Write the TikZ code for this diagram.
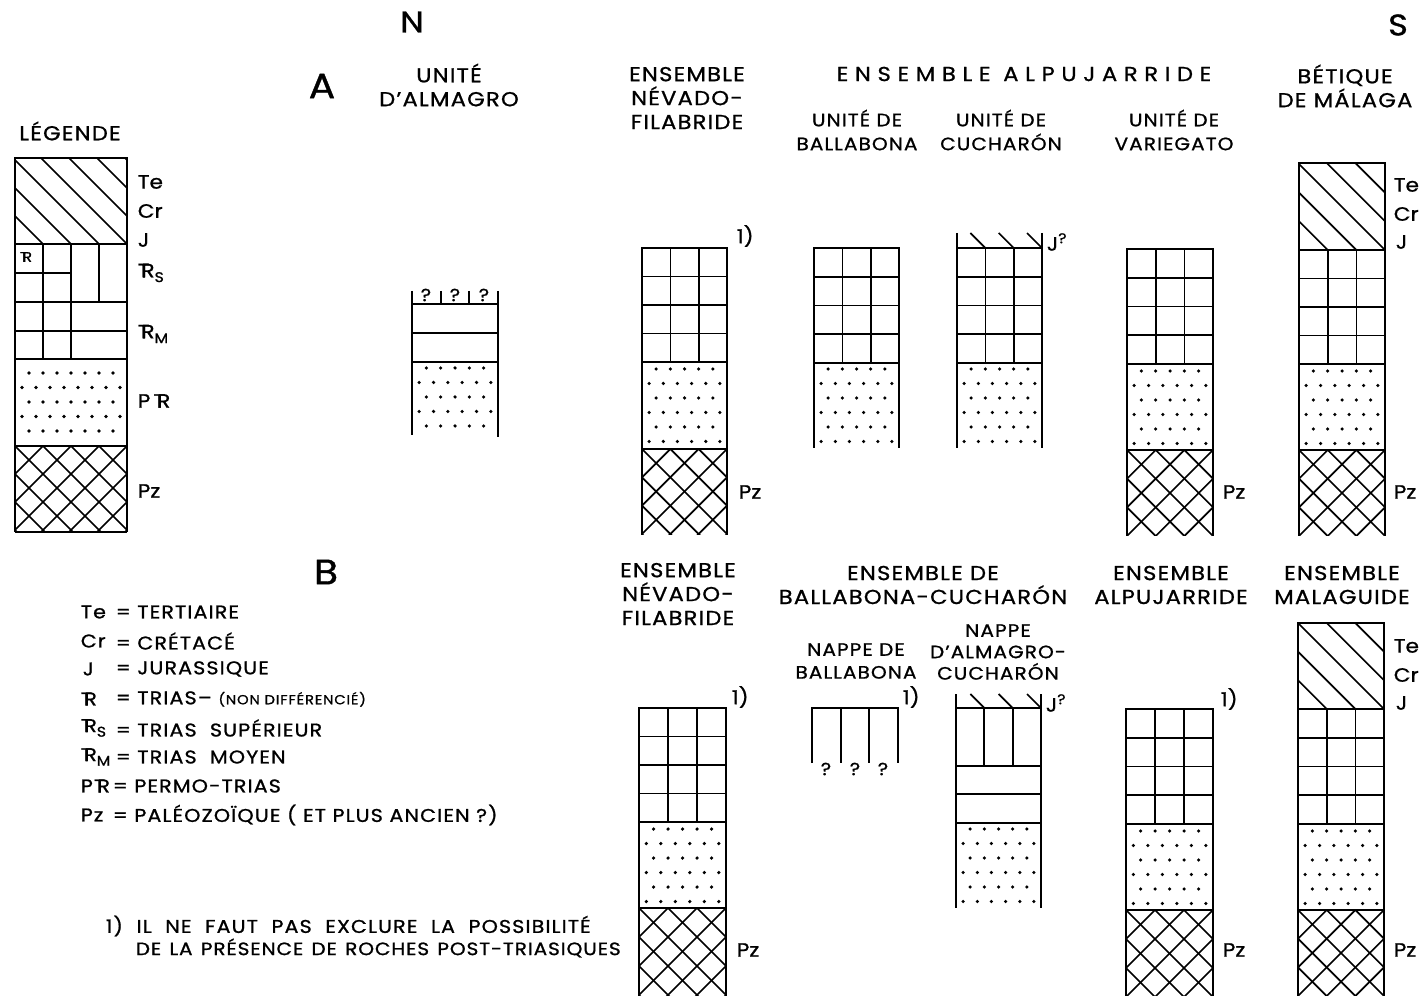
\documentclass[tikz,border=0pt]{standalone}
\usepackage{fontspec}
\setmainfont{Poppins}[FakeStretch=1.12, FakeBold=1]
\newcommand{\hdfont}{\fontsize{11.5}{13.6}\selectfont\addfontfeature{LetterSpace=6}}
\newcommand{\subfont}{\fontsize{10.2}{13.6}\selectfont\addfontfeature{LetterSpace=6}}
\newcommand{\bigfont}{\fontsize{17}{17}\selectfont}
\newcommand{\tagfont}{\fontsize{11}{11}\selectfont}
\newcommand{\qmfont}{\fontsize{10}{10}\selectfont}
\newcommand{\lstfont}{\fontsize{10.5}{10.5}\selectfont\addfontfeature{LetterSpace=6}}
\newcommand{\Tr}{T\kern-0.42em R}
\newcommand{\lowsub}[1]{\raisebox{-0.45ex}{\fontsize{8}{8}\selectfont #1}}
% trias grid: left, right, top, bottom
\newcommand{\gridpart}[4]{%
  \draw (#1,#3) rectangle (#2,#4);
  \foreach \i in {1,2} \draw ({#1+\i*(#2-#1)/3},#3) -- ({#1+\i*(#2-#1)/3},#4);
  \foreach \j in {1,2,3} \draw (#1,{#3+\j*(#4-#3)/4}) -- (#2,{#3+\j*(#4-#3)/4});
}
% dots: left, right, first row, rows, dots in odd rows
\newcommand{\sandpart}[5]{%
  \foreach \i in {1,...,#4} {
    \pgfmathtruncatemacro{\odd}{mod(\i,2)}
    \ifnum\odd=1
      \foreach \j in {1,...,#5} \fill ({#1+\j*(#2-#1)/(#5+1)},{#3+(\i-1)*14.5}) circle (1pt);
    \else
      \foreach \j in {0,...,#5} \fill ({#1+(\j+0.5)*(#2-#1)/(#5+1)},{#3+(\i-1)*14.5}) circle (1pt);
    \fi
  }
}
% diagonal hatch: left, right, top, bottom, spacing
\newcommand{\hatchpart}[5]{%
  \begin{scope}
    \clip (#1,#3) rectangle (#2,#4);
    \foreach \k in {1,...,8} \draw ({#1+\k*#5},#4) -- ++(-130,-130);
  \end{scope}
  \draw (#1,#3) rectangle (#2,#4);
}
% cross hatch: left, right, top, bottom, spacing
\newcommand{\crosspart}[5]{%
  \begin{scope}
    \clip (#1,#3) rectangle (#2,#4);
    \foreach \k in {-4,...,8} {
      \draw ({#1+\k*#5},#3) -- ++(130,130);
      \draw ({#1+\k*#5},#3) -- ++(-130,130);
    }
  \end{scope}
  \draw (#1,#3) -- (#1,#4); \draw (#2,#3) -- (#2,#4);
}
\begin{document}
\begin{tikzpicture}[x=0.02cm, y=-0.02cm, line width=0.95pt,
  every node/.style={inner sep=0pt, align=center, font=\hdfont},
  big/.style={font=\bigfont}, tag/.style={font=\tagfont, anchor=west},
  sub/.style={font=\subfont},
  qm/.style={font=\qmfont}, lst/.style={font=\lstfont, anchor=west},
  spaced/.style={font=\hdfont\addfontfeature{LetterSpace=33}}]
\useasboundingbox (0,0) rectangle (1420,996);

% headers
\node[big] (pN) at (412,22) {N};
\node[big] (pS) at (1398,25) {S};
\node[big, font=\fontsize{20}{20}\selectfont] (pA) at (322,86) {A};
\node[big, font=\fontsize{20}{20}\selectfont] (pB) at (326,572) {B};
\node (hLeg) at (70,131) {LÉGENDE};
\node (hAlm) at (449,85) {UNITÉ\\D'ALMAGRO};
\node (hNevA) at (687,98) {ENSEMBLE\\NÉVADO-\\FILABRIDE};
\node[spaced] (hAlp) at (1024,74) {ENSEMBLE ALPUJARRIDE};
\node[sub] (hBal) at (857,130) {UNITÉ DE\\BALLABONA};
\node[sub] (hCuc) at (1001,130) {UNITÉ DE\\CUCHARÓN};
\node[sub] (hVar) at (1174,130) {UNITÉ DE\\VARIEGATO};
\node (hMal) at (1345,86) {BÉTIQUE\\DE MÁLAGA};
\node (hNevB) at (678,594) {ENSEMBLE\\NÉVADO-\\FILABRIDE};
\node (hBC) at (923,585) {ENSEMBLE DE\\BALLABONA-CUCHARÓN};
\node (hAlpB) at (1171,585) {ENSEMBLE\\ALPUJARRIDE};
\node (hMgd) at (1342,585) {ENSEMBLE\\MALAGUIDE};
\node[sub, font=\fontsize{10.2}{13}\selectfont\addfontfeature{LetterSpace=6}] (hNBal) at (856,661) {NAPPE DE\\BALLABONA};
\node[sub, font=\fontsize{10.2}{12.2}\selectfont\addfontfeature{LetterSpace=6}] (hNAC) at (998,652) {NAPPE\\D'ALMAGRO-\\CUCHARÓN};

% legend column
\hatchpart{15}{127}{158}{244}{28}
\draw (15,244) rectangle (127,359);
\draw (43,244) -- (43,359); \draw (71,244) -- (71,359); \draw (99,244) -- (99,302);
\draw (15,273) -- (71,273); \draw (15,302) -- (127,302); \draw (15,331) -- (127,331);
\node[font=\fontsize{8}{8}\selectfont] (lTr) at (26,257) {\Tr};
\draw (15,359) rectangle (127,446);
\sandpart{15}{127}{373}{5}{7}
\crosspart{15}{127}{446}{532}{28}
\draw (15,532) -- (127,532);
\node[tag] (lTe) at (137,182) {Te};
\node[tag] (lCr) at (137,211) {Cr};
\node[tag] (lJ) at (137,240) {J};
\node[tag] (lTrS) at (137,273) {\Tr\lowsub{S}};
\node[tag] (lTrM) at (137,334) {\Tr\lowsub{M}};
\node[tag] (lPTr) at (137,401) {P\,\Tr};
\node[tag] (lPz) at (137,491) {Pz};

% legend list
\node[lst] (kTe) at (80,612) {Te};   \node[lst] (vTe) at (115,612) {= TERTIAIRE};
\node[lst] (kCr) at (80,641) {Cr};   \node[lst] (vCr) at (115,641) {= CRÉTACÉ};
\node[lst] (kJ) at (82,669) {J};     \node[lst] (vJ) at (115,669) {= JURASSIQUE};
\node[lst] (kTr) at (80,699) {\Tr};  \node[lst] (vTr) at (115,699) {= TRIAS– {\fontsize{7.5}{7.5}\selectfont (NON DIFFÉRENCIÉ)}};
\node[lst] (kTrS) at (80,728) {\Tr\lowsub{S}}; \node[lst] (vTrS) at (115,728) {= TRIAS\ \ SUPÉRIEUR};
\node[lst] (kTrM) at (80,757) {\Tr\lowsub{M}}; \node[lst] (vTrM) at (115,757) {= TRIAS\ \ MOYEN};
\node[lst] (kPTr) at (80,786) {P\Tr}; \node[lst] (vPTr) at (112,786) {= PERMO-TRIAS};
\node[lst] (kPz) at (80,815) {Pz};   \node[lst] (vPz) at (112,815) {= PALÉOZOÏQUE ( ET PLUS ANCIEN ?)};

% footnote
\node[lst] (fn1) at (105,926) {\makebox[9.7cm][s]{1) IL NE FAUT PAS EXCLURE LA POSSIBILITÉ}};
\node[lst, font=\fontsize{10.2}{10.2}\selectfont\addfontfeature{LetterSpace=5}] (fn2) at (135,948) {\makebox[9.7cm][s]{DE LA PRÉSENCE DE ROCHES POST-TRIASIQUES}};

% unite d'almagro
\draw (412,291) -- (412,435); \draw (498,291) -- (498,437);
\draw (412,304) -- (498,304); \draw (412,333) -- (498,333); \draw (412,362) -- (498,362);
\draw (440.7,291) -- (440.7,304); \draw (469.3,291) -- (469.3,304);
\node[qm] (qA1) at (426,295) {?}; \node[qm] (qA2) at (455,295) {?}; \node[qm] (qA3) at (484,295) {?};
\sandpart{412}{498}{368}{5}{5}

% nevado-filabride A
\gridpart{642}{727}{248}{362}
\draw (642,362) rectangle (727,449);
\sandpart{642}{727}{369}{6}{5}
\crosspart{642}{727}{449}{535}{28.33}
\node[tag] (nA1) at (736,236) {1)};
\node[tag] (nAPz) at (738,492) {Pz};

% ballabona A
\gridpart{814}{899}{248}{363}
\draw (814,363) -- (814,448); \draw (899,363) -- (899,448);
\sandpart{814}{899}{369}{6}{5}

% cucharon A
\gridpart{957}{1042}{248}{363}
\draw (957,233) -- (957,448); \draw (1042,233) -- (1042,448);
\foreach \k in {1,2,3} \draw ({957+\k*85/3},248) -- ++(-15,-15);
\sandpart{957}{1042}{369}{6}{5}
\node[tag] (cJ) at (1046,242) {J\raisebox{0.7ex}{\fontsize{8}{8}\selectfont ?}};

% variegato A
\gridpart{1127}{1213}{249}{364}
\draw (1127,364) rectangle (1213,450);
\sandpart{1127}{1213}{371}{6}{5}
\crosspart{1127}{1213}{450}{536}{28.67}
\node[tag] (vPz) at (1222,492) {Pz};

% betique de malaga A
\hatchpart{1299}{1385}{163}{250}{28.67}
\gridpart{1299}{1385}{250}{364}
\draw (1299,364) rectangle (1385,450);
\sandpart{1299}{1385}{371}{6}{5}
\crosspart{1299}{1385}{450}{536}{28.67}
\node[tag] (mTe) at (1393,185) {Te};
\node[tag] (mCr) at (1393,214) {Cr};
\node[tag] (mJ) at (1395,242) {J};
\node[tag] (mPz) at (1393,492) {Pz};

% nevado-filabride B
\gridpart{639}{726}{708}{822}
\draw (639,822) rectangle (726,908);
\sandpart{639}{726}{829}{6}{5}
\crosspart{639}{726}{908}{996}{29}
\node[tag] (nB1) at (731,697) {1)};
\node[tag] (nBPz) at (736,950) {Pz};

% nappe de ballabona B
\draw (812,763) -- (812,708) -- (898,708) -- (898,763);
\draw (840.7,708) -- (840.7,763); \draw (869.3,708) -- (869.3,763);
\node[qm] (qB1) at (826,769) {?}; \node[qm] (qB2) at (855,769) {?}; \node[qm] (qB3) at (883,769) {?};
\node[tag] (bB1) at (902,697) {1)};

% nappe d'almagro-cucharon B
\draw (956,694) -- (956,908); \draw (1041,694) -- (1041,908);
\draw (956,708) -- (1041,708); \draw (956,766) -- (1041,766);
\draw (956,794) -- (1041,794); \draw (956,823) -- (1041,823);
\draw (984.3,708) -- (984.3,766); \draw (1012.7,708) -- (1012.7,766);
\foreach \k in {1,2,3} \draw ({956+\k*85/3},708) -- ++(-14,-14);
\sandpart{956}{1041}{829}{6}{5}
\node[tag] (acJ) at (1045,703) {J\raisebox{0.7ex}{\fontsize{8}{8}\selectfont ?}};

% alpujarride B
\gridpart{1126}{1213}{709}{824}
\draw (1126,824) rectangle (1213,910);
\sandpart{1126}{1213}{831}{6}{5}
\crosspart{1126}{1213}{910}{996}{29}
\node[tag] (aB1) at (1220,699) {1)};
\node[tag] (aBPz) at (1222,950) {Pz};

% malaguide B
\hatchpart{1298}{1384}{623}{709}{28.67}
\gridpart{1298}{1384}{709}{824}
\draw (1298,824) rectangle (1384,910);
\sandpart{1298}{1384}{831}{6}{5}
\crosspart{1298}{1384}{910}{996}{28.67}
\node[tag] (gTe) at (1393,646) {Te};
\node[tag] (gCr) at (1393,675) {Cr};
\node[tag] (gJ) at (1395,703) {J};
\node[tag] (gPz) at (1393,950) {Pz};
\end{tikzpicture}
\end{document}
